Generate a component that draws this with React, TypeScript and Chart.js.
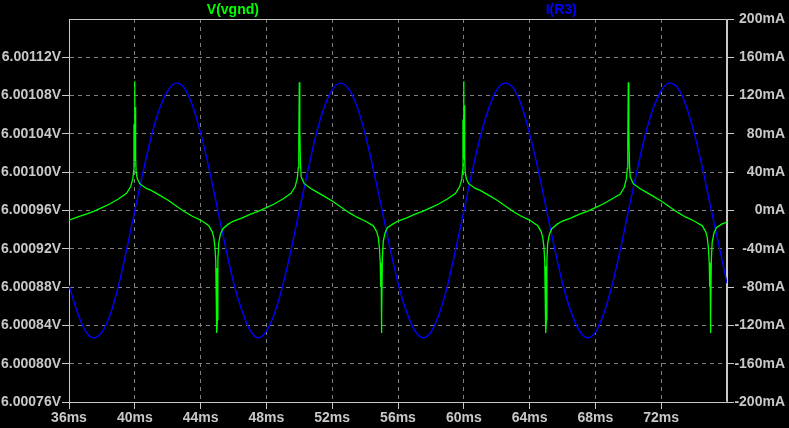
import React, { useEffect, useRef } from "react"
import { Chart, registerables } from "chart.js"

Chart.register(...registerables)

// time axis (ms) and the two axes' ranges
const timeTicks = [36, 40, 44, 48, 52, 56, 60, 64, 68, 72]
const timeRange = [36, 76]
const voltRange = [6.00076, 6.00116]
const ampRange = [-200, 200]

// V(vgnd) [ms, V]
const vgnd: [number, number][] = [
    [36.0, 6.000950], [36.5, 6.000953], [37.0, 6.000956], [37.5, 6.000959],
    [38.0, 6.000963], [38.5, 6.000967], [39.0, 6.000972], [39.5, 6.000978],
    [39.75, 6.000985], [39.88, 6.000993], [39.93, 6.001002], [39.95, 6.001050],
    [39.97, 6.001012], [39.99, 6.001095], [40.01, 6.001020], [40.03, 6.001068],
    [40.05, 6.001015], [40.08, 6.001000], [40.15, 6.000993], [40.3, 6.000988],
    [40.7, 6.000983], [41.0, 6.000981], [41.5, 6.000976], [42.0, 6.000971],
    [42.5, 6.000965], [43.0, 6.000959], [43.5, 6.000954], [44.0, 6.000950],
    [44.5, 6.000944], [44.7, 6.000938], [44.8, 6.000932], [44.87, 6.000922],
    [44.92, 6.000908], [44.95, 6.000870], [44.97, 6.000900], [44.99, 6.000832],
    [45.02, 6.000846], [45.05, 6.000908], [45.1, 6.000926], [45.2, 6.000935],
    [45.35, 6.000941], [45.7, 6.000946], [46.0, 6.000949], [46.5, 6.000952],
    [47.0, 6.000956], [47.5, 6.000959], [48.0, 6.000963], [48.5, 6.000967],
    [49.0, 6.000972], [49.5, 6.000978], [49.75, 6.000985], [49.88, 6.000994],
    [49.94, 6.001005], [49.97, 6.001030], [50.0, 6.001094], [50.02, 6.001032],
    [50.04, 6.001045], [50.07, 6.001008], [50.12, 6.000995], [50.3, 6.000988],
    [50.7, 6.000983], [51.0, 6.000980], [51.5, 6.000975], [52.0, 6.000970],
    [52.5, 6.000964], [53.0, 6.000958], [53.5, 6.000953], [54.0, 6.000949],
    [54.5, 6.000944], [54.7, 6.000938], [54.8, 6.000932], [54.87, 6.000921],
    [54.92, 6.000906], [54.95, 6.000880], [54.97, 6.000905], [54.99, 6.000832],
    [55.02, 6.000850], [55.05, 6.000910], [55.1, 6.000927], [55.2, 6.000936],
    [55.35, 6.000942], [55.7, 6.000946], [56.0, 6.000949], [56.5, 6.000952],
    [57.0, 6.000956], [57.5, 6.000959], [58.0, 6.000963], [58.5, 6.000967],
    [59.0, 6.000972], [59.5, 6.000978], [59.75, 6.000985], [59.88, 6.000993],
    [59.93, 6.001003], [59.95, 6.001055], [59.97, 6.001014], [59.99, 6.001095],
    [60.01, 6.001022], [60.03, 6.001070], [60.05, 6.001016], [60.08, 6.001001],
    [60.15, 6.000993], [60.3, 6.000988], [60.7, 6.000983], [61.0, 6.000981],
    [61.5, 6.000976], [62.0, 6.000971], [62.5, 6.000965], [63.0, 6.000959],
    [63.5, 6.000954], [64.0, 6.000950], [64.5, 6.000944], [64.7, 6.000938],
    [64.8, 6.000932], [64.87, 6.000922], [64.92, 6.000908], [64.95, 6.000868],
    [64.97, 6.000902], [64.99, 6.000832], [65.02, 6.000846], [65.05, 6.000908],
    [65.1, 6.000926], [65.2, 6.000935], [65.35, 6.000941], [65.7, 6.000946],
    [66.0, 6.000949], [66.5, 6.000952], [67.0, 6.000956], [67.5, 6.000959],
    [68.0, 6.000963], [68.5, 6.000967], [69.0, 6.000972], [69.5, 6.000977],
    [69.75, 6.000984], [69.88, 6.000993], [69.94, 6.001004], [69.97, 6.001030],
    [70.0, 6.001094], [70.02, 6.001032], [70.04, 6.001046], [70.07, 6.001008],
    [70.12, 6.000995], [70.3, 6.000988], [70.7, 6.000983], [71.0, 6.000980],
    [71.5, 6.000975], [72.0, 6.000970], [72.5, 6.000964], [73.0, 6.000958],
    [73.5, 6.000953], [74.0, 6.000949], [74.5, 6.000944], [74.7, 6.000938],
    [74.8, 6.000932], [74.87, 6.000921], [74.92, 6.000906], [74.95, 6.000880],
    [74.97, 6.000905], [74.99, 6.000832], [75.02, 6.000850], [75.05, 6.000910],
    [75.1, 6.000927], [75.2, 6.000936], [75.35, 6.000942], [75.7, 6.000946],
    [76.0, 6.000948],
]

// I(R3) [ms, mA]
const iR3: [number, number][] = [
    [36.0, -78], [36.5, -106], [37.0, -126], [37.5, -133], [38.0, -127],
    [38.5, -109], [39.0, -79], [39.5, -41], [40.0, 0], [40.5, 40],
    [41.0, 77], [41.5, 106], [42.0, 125], [42.5, 133], [43.0, 128],
    [43.5, 110], [44.0, 81], [44.5, 45], [45.0, 4], [45.5, -37],
    [46.0, -75], [46.5, -104], [47.0, -125], [47.5, -133], [48.0, -126],
    [48.5, -107], [49.0, -78], [49.5, -41], [50.0, 0], [50.5, 40],
    [51.0, 78], [51.5, 107], [52.0, 126], [52.5, 133], [53.0, 127],
    [53.5, 109], [54.0, 80], [54.5, 43], [55.0, 3], [55.5, -38],
    [56.0, -76], [56.5, -105], [57.0, -125], [57.5, -133], [58.0, -127],
    [58.5, -108], [59.0, -79], [59.5, -41], [60.0, -1], [60.5, 40],
    [61.0, 77], [61.5, 106], [62.0, 126], [62.5, 133], [63.0, 128],
    [63.5, 110], [64.0, 80], [64.5, 44], [65.0, 3], [65.5, -38],
    [66.0, -76], [66.5, -105], [67.0, -125], [67.5, -133], [68.0, -127],
    [68.5, -108], [69.0, -79], [69.5, -42], [70.0, -1], [70.5, 39],
    [71.0, 77], [71.5, 106], [72.0, 125], [72.5, 133], [73.0, 128],
    [73.5, 110], [74.0, 81], [74.5, 45], [75.0, 4], [75.5, -36],
    [76.0, -76],
]

const seriesNames = ["V(vgnd)", "I(R3)"]
const seriesColors = ["#00ff00", "#0000ff"]

const textColor = "#c8c8c8"
const gridColor = "#808080"
const font = { family: "'Liberation Sans', Arial, sans-serif", size: 14, weight: "bold" as const }

// frame on top + trace names above the plot
const ltspicePlugin = {
    id: "ltspice",
    beforeDatasetsDraw(chart: Chart) {
        const { ctx, chartArea } = chart
        ctx.save()
        ctx.strokeStyle = textColor
        ctx.lineWidth = 1
        const l = Math.round(chartArea.left) + 0.5
        const t = Math.round(chartArea.top) + 0.5
        const r = Math.round(chartArea.right) - 0.5
        const b = Math.round(chartArea.bottom) - 0.5
        ctx.beginPath()
        ctx.moveTo(l, b)
        ctx.lineTo(l, t)
        ctx.lineTo(r, t)
        ctx.lineTo(r, b)
        ctx.stroke()
        ctx.restore()
    },
    afterDraw(chart: Chart) {
        const { ctx, chartArea } = chart
        const w = chartArea.right - chartArea.left
        ctx.save()
        ctx.font = `bold 14px ${font.family}`
        ctx.textAlign = "center"
        ctx.textBaseline = "middle"
        ctx.fillStyle = seriesColors[0]
        ctx.fillText(seriesNames[0], chartArea.left + w * 0.249, 10)
        ctx.fillStyle = seriesColors[1]
        ctx.fillText(seriesNames[1], chartArea.left + w * 0.748, 10)
        ctx.restore()
    },
}

function LtspicePlot() {

    const canvasRef = useRef<HTMLCanvasElement>(null)
    const chartRef = useRef<Chart>()

    useEffect(() => {
        chartRef.current?.destroy()
        chartRef.current = new Chart(canvasRef.current as HTMLCanvasElement, {
            type: "line",
            data: {
                datasets: [
                    {
                        label: seriesNames[0],
                        data: vgnd.map(([x, y]) => ({ x, y })),
                        borderColor: seriesColors[0],
                        borderWidth: 1.3,
                        pointRadius: 0,
                        tension: 0,
                        yAxisID: "y",
                    },
                    {
                        label: seriesNames[1],
                        data: iR3.map(([x, y]) => ({ x, y })),
                        borderColor: seriesColors[1],
                        borderWidth: 1.4,
                        pointRadius: 0,
                        cubicInterpolationMode: "monotone",
                        yAxisID: "y2",
                    },
                ],
            },
            options: {
                animation: false,
                responsive: false,
                events: [],
                layout: { padding: { top: 19, right: 4, left: 0, bottom: 0 } },
                plugins: { legend: { display: false }, tooltip: { enabled: false } },
                scales: {
                    x: {
                        type: "linear",
                        min: timeRange[0],
                        max: timeRange[1],
                        afterBuildTicks: (scale: any) => {
                            scale.ticks = timeTicks.map(value => ({ value }))
                        },
                        afterFit: (scale: any) => { scale.height = 26 },
                        ticks: {
                            color: textColor,
                            font,
                            padding: 1,
                            maxRotation: 0,
                            callback: (v: any) => `${v}ms`,
                        },
                        grid: { color: gridColor, tickColor: textColor, tickLength: 7 },
                        border: { color: textColor, dash: [4, 4] },
                    },
                    y: {
                        position: "left",
                        min: voltRange[0],
                        max: voltRange[1],
                        afterBuildTicks: (scale: any) => {
                            scale.ticks = scale.ticks.filter((t: any) => t.value < voltRange[1] - 0.00001)
                        },
                        afterFit: (scale: any) => { scale.width = 69 },
                        ticks: {
                            stepSize: 0.00004,
                            color: textColor,
                            font,
                            padding: 1,
                            callback: (v: any) => `${Number(v).toFixed(5)}V`,
                        },
                        grid: { color: gridColor, tickColor: textColor, tickLength: 7 },
                        border: { color: textColor, dash: [4, 4] },
                    },
                    y2: {
                        position: "right",
                        min: ampRange[0],
                        max: ampRange[1],
                        afterFit: (scale: any) => { scale.width = 58 },
                        ticks: {
                            stepSize: 40,
                            color: textColor,
                            font,
                            padding: 2,
                            crossAlign: "far",
                            callback: (v: any) => `${v}mA`,
                        },
                        grid: { drawOnChartArea: false, tickColor: textColor, tickLength: 7 },
                        border: { color: textColor },
                    },
                },
            },
            plugins: [ltspicePlugin],
        } as any)

        return () => {
            chartRef.current?.destroy()
        }
    }, [])

    return (
        <div style={{ position: "fixed", left: 0, top: 0, width: 789, height: 428, background: "#000" }}>
            <canvas ref={canvasRef} width={789} height={428}></canvas>
        </div>
    )
}

export default function App() {
    return <LtspicePlot />
}
